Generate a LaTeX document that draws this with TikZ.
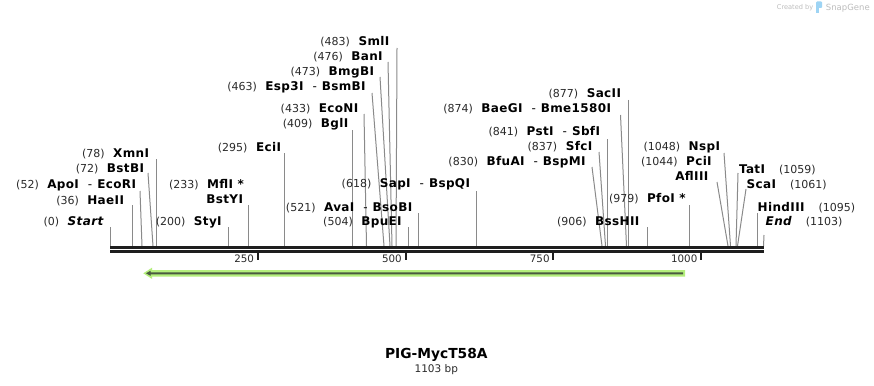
\documentclass[tikz,border=0pt]{standalone}
\usepackage{fontspec}
\setmainfont{DejaVu Sans}
\newfontfamily\namefam{DejaVu Sans}[LetterSpace=3]
\definecolor{cutgray}{HTML}{8A8A8A}
\definecolor{bbcol}{HTML}{1E1E1E}
\definecolor{numc}{HTML}{2A2A2A}
\definecolor{featgreen}{HTML}{B4EF7C}
\definecolor{featdark}{HTML}{4A5A40}
\definecolor{wmgray}{HTML}{BDBDBD}
\definecolor{wmblue}{HTML}{9ED4F4}
\newcommand\numfont{\fontsize{11}{12}\selectfont\color{numc}}
\newcommand\namefont{\namefam\fontsize{12}{14}\selectfont\bfseries\color{black}}
\newcommand\dsh{\hspace{9pt}{\mdseries -}\hspace{5pt}}
\newcommand\labL[5]{\node[lab,anchor=base east] (#1) at (#2,#3) {{\numfont(#4)}\hspace{8.5pt}{\namefont #5}};}
\newcommand\labN[4]{\node[lab,anchor=base east] (#1) at (#2,#3) {{\namefont #4}};}
\newcommand\labR[5]{\node[lab,anchor=base west] (#1) at (#2,#3) {{\namefont #5}\hspace{14pt}{\numfont(#4)}};}
\newcommand\cutln[5]{\coordinate (#1t) at (#2,#3); \coordinate (#1b) at (#4,#5); \draw[cutline] (#1t) -- (#1b);}
\begin{document}
\begin{tikzpicture}[x=1pt,y=-1pt,
  lab/.style={inner sep=0pt,outer sep=0pt},
  cutline/.style={draw=cutgray,line width=1pt},
  tickmark/.style={draw=bbcol,line width=2pt},
  ticklab/.style={inner sep=0pt,anchor=base east,font=\fontsize{10.3}{12}\selectfont,text=numc}]
\useasboundingbox (0,0) rectangle (874,385);
\fill[white] (0,0) rectangle (874,385);

% cut lines
\cutln{Start}{110}{227}{110}{246}
\cutln{HaeII}{132}{205}{132}{246}
\cutln{ApoI}{140}{191}{142}{246}
\cutln{BstBI}{148}{173}{153}{246}
\cutln{XmnI}{156}{159}{156}{246}
\cutln{StyI}{228.5}{227}{228.5}{246}
\cutln{MflI}{248}{205}{248}{246}
\cutln{EciI}{284.5}{153}{284.5}{246}
\cutln{BglI}{352}{130}{352}{246}
\cutln{EcoNI}{364}{114}{366.5}{246}
\cutln{EspI}{372}{93}{384}{246}
\cutln{BmgBI}{380}{77}{390}{246}
\cutln{BanI}{388}{62}{392}{246}
\cutln{SmlI}{397}{48}{396}{246}
\cutln{BpuEI}{408.5}{227}{408.5}{246}
\cutln{AvaI}{418.5}{213}{418.5}{246}
\cutln{SapI}{476}{191}{476}{246}
\cutln{BfuAI}{592}{167}{602}{246}
\cutln{SfcI}{599}{152}{605.5}{246}
\cutln{PstI}{607.5}{139}{607.5}{246}
\cutln{BaeGI}{620.5}{115}{626.5}{246}
\cutln{SacII}{628.5}{100}{628.5}{246}
\cutln{BssHII}{647}{227}{647}{246}
\cutln{PfoI}{689.5}{205}{689.5}{246}
\cutln{PciI}{717}{182}{728}{246}
\cutln{NspI}{724}{153}{730.5}{246}
\cutln{TatI}{738}{173}{736}{246}
\cutln{ScaI}{746}{189}{737.5}{246}
\cutln{HindIII}{757.5}{213}{757.5}{246}
\cutln{End}{764}{235}{763.5}{246}

% labels left of cut lines
\labL{LStart}{103.3}{225}{0}{\itshape Start}
\labL{LHaeII}{124}{204}{36}{HaeII}
\labL{LApoI}{136}{188}{52}{ApoI\dsh EcoRI}
\labL{LBstBI}{144}{172.7}{72}{BstBI}
\labL{LXmnI}{149}{157.7}{78}{XmnI}
\labL{LStyI}{221.7}{225}{200}{StyI}
\labL{LMflI}{244}{188}{233}{MflI *}
\labN{LBstYI}{243}{203}{BstYI}
\labL{LEciI}{281}{151}{295}{EciI}
\labL{LBglI}{348.3}{127.3}{409}{BglI}
\labL{LEcoNI}{358.3}{112.3}{433}{EcoNI}
\labL{LEspI}{365.7}{90.7}{463}{Esp3I\dsh BsmBI}
\labL{LBmgBI}{374}{75.7}{473}{BmgBI}
\labL{LBanI}{382.7}{60.3}{476}{BanI}
\labL{LSmlI}{389.3}{45.7}{483}{SmlI}
\labL{LBpuEI}{401.7}{225.7}{504}{BpuEI}
\labL{LAvaI}{412.3}{211}{521}{AvaI\dsh BsoBI}
\labL{LSapI}{470}{187.3}{618}{SapI\dsh BspQI}
\labL{LBfuAI}{585.7}{165.7}{830}{BfuAI\dsh BspMI}
\labL{LSfcI}{592.3}{150}{837}{SfcI}
\labL{LPstI}{600}{135.7}{841}{PstI\dsh SbfI}
\labL{LBaeGI}{611}{112.3}{874}{BaeGI\dsh Bme1580I}
\labL{LSacII}{621}{97.7}{877}{SacII}
\labL{LBssHII}{639.3}{225.7}{906}{BssHII}
\labL{LPfoI}{685.7}{202.3}{979}{PfoI *}
\labL{LNspI}{720}{150}{1048}{NspI}
\labL{LPciI}{711.7}{165.7}{1044}{PciI}
\labN{LAflIII}{708.3}{180.7}{AflIII}
% labels right of cut lines
\labR{LTatI}{739}{173.3}{1059}{TatI}
\labR{LScaI}{746.7}{188.3}{1061}{ScaI}
\labR{LHindIII}{757.7}{211}{1095}{HindIII}
\labR{LEnd}{765.7}{225.7}{1103}{\itshape End}

% backbone
\fill[bbcol] (110,245.7) rectangle (764,248.7);
\fill[bbcol] (110,250) rectangle (764,252.7);

% ruler ticks
\foreach \tx/\tl in {257.75/250,405.5/500,553.25/750,701/1000}{
  \coordinate (tk\tl a) at (\tx,252);
  \coordinate (tk\tl b) at (\tx,259.5);
  \draw[tickmark] (tk\tl a) -- (tk\tl b);
  \node[ticklab] (tl\tl) at (\tx-3.5,262.3) {\tl};
}

% feature arrow
\fill[featgreen] (143.3,273.3) -- (152,267.7) -- (152,270) -- (685,270) -- (685,276.6) -- (152,276.6) -- (152,278.9) -- cycle;
\fill[featdark] (146,273.3) -- (150.5,270.8) -- (150.5,272.3) -- (683,272.3) -- (683,274.3) -- (150.5,274.3) -- (150.5,275.8) -- cycle;

% title
\node[inner sep=0pt,anchor=base] (title) at (436.3,358.5) {\fontsize{13.8}{16}\selectfont\bfseries PIG-MycT58A};
\node[inner sep=0pt,anchor=base] (size) at (436.3,372.7) {\fontsize{10.5}{12}\selectfont\color{numc}1103 bp};

% watermark
\node[inner sep=0pt,anchor=base west] (wm1) at (776.7,10) {\fontsize{6.6}{8}\selectfont\color{wmgray}Created by};
\fill[wmblue, rounded corners=1pt] (816,1.5) rectangle (822,8);
\fill[wmblue] (816,7) rectangle (818.5,13);
\node[inner sep=0pt,anchor=base west] (wm2) at (825.7,10.5) {\fontsize{8.5}{10}\selectfont\color{wmgray}SnapGene};
\end{tikzpicture}
\end{document}
